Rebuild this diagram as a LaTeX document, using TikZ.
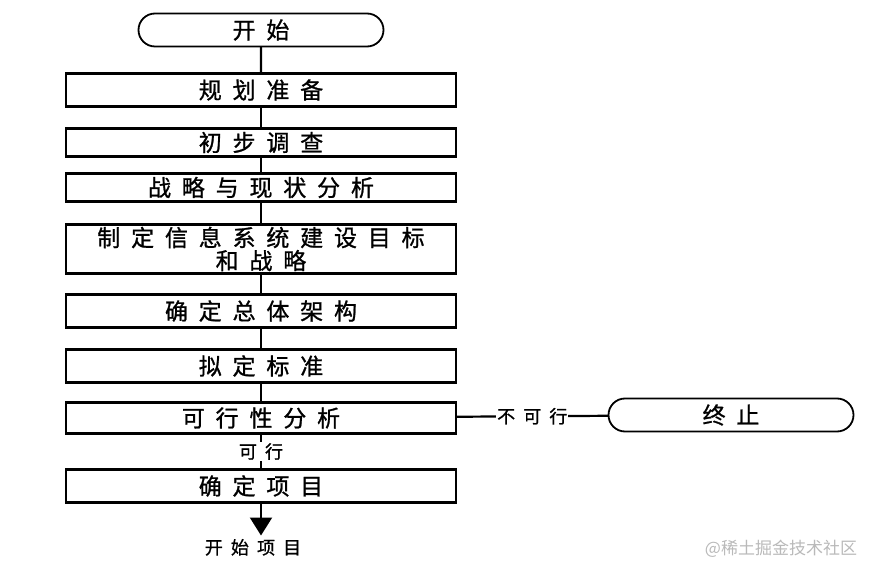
\documentclass[tikz,border=0pt]{standalone}
\usepackage{fontspec}
\usetikzlibrary{arrows.meta, positioning, shapes.misc}

\newfontfamily\cjk[LetterSpace=47, FakeBold=1]{Noto Sans CJK SC}
\newfontfamily\cjklabel[LetterSpace=45, FakeBold=0.8]{Noto Sans CJK SC}
\newfontfamily\cjkplain{Noto Sans CJK SC}
\newcommand\cjkbig{\cjk\fontsize{23}{23}\selectfont}
\newcommand\cjksmall{\cjklabel\fontsize{18}{20}\selectfont}
\newcommand\cjkmark{\cjkplain\fontsize{17}{19}\selectfont}

\begin{document}
\begin{tikzpicture}[
  x=1pt, y=1pt,
  node distance=21pt,
  stepbox/.style={rectangle, draw, line width=2.2pt, minimum width=390pt,
                  minimum height=33pt, align=center, font=\cjkbig,
                  inner sep=0pt, outer sep=0pt},
  termbox/.style={rounded rectangle, draw, line width=1.8pt, minimum width=245pt,
                  minimum height=33pt, font=\cjkbig, inner sep=0pt, outer sep=0pt},
  link/.style={line width=2.2pt},
  lbl/.style={font=\cjksmall, fill=white, inner sep=1pt},
]
\useasboundingbox (0,0) rectangle (871,-569);

% ---- nodes ----
\node[termbox] (start) at (261,-30) {开始};

\node[stepbox, below=27pt of start] (plan) {规划准备};

\node[stepbox, below=22pt of plan, minimum height=28pt] (survey) {初步调查};

\node[stepbox, below=17pt of survey, minimum height=28pt] (analysis) {战略与现状分析};

\node[stepbox, below=23pt of analysis, minimum height=49pt] (goal) {制定信息系统建设目标\\和战略};

\node[stepbox, below=of goal] (arch) {确定总体架构};

\node[stepbox, below=22pt of arch] (std) {拟定标准};

\node[stepbox, below=20pt of std, minimum height=31pt] (feas) {可行性分析};

\node[stepbox, below=36pt of feas] (proj) {确定项目};

\node[termbox] (stop) at (731,-415) {终止};

\coordinate[below=33pt of proj] (tip);
\node[font=\cjksmall, below=0pt of tip, xshift=-8pt] (go) {开始项目};

\node[font=\cjkmark, text=gray!55] (mark) at (781,-549) {@稀土掘金技术社区};

% ---- links ----
\draw[link] (start) -- (plan);
\draw[link] (plan) -- (survey);
\draw[link] (survey) -- (analysis);
\draw[link] (analysis) -- (goal);
\draw[link] (goal) -- (arch);
\draw[link] (arch) -- (std);
\draw[link] (std) -- (feas);
\draw[link] (feas) -- node[lbl] {可行} (proj);
\draw[link] (feas) -- node[lbl] {不可行} (stop);
\draw[link, -{Triangle[length=18pt, width=22pt]}] (proj) -- (tip);

\end{tikzpicture}
\end{document}
